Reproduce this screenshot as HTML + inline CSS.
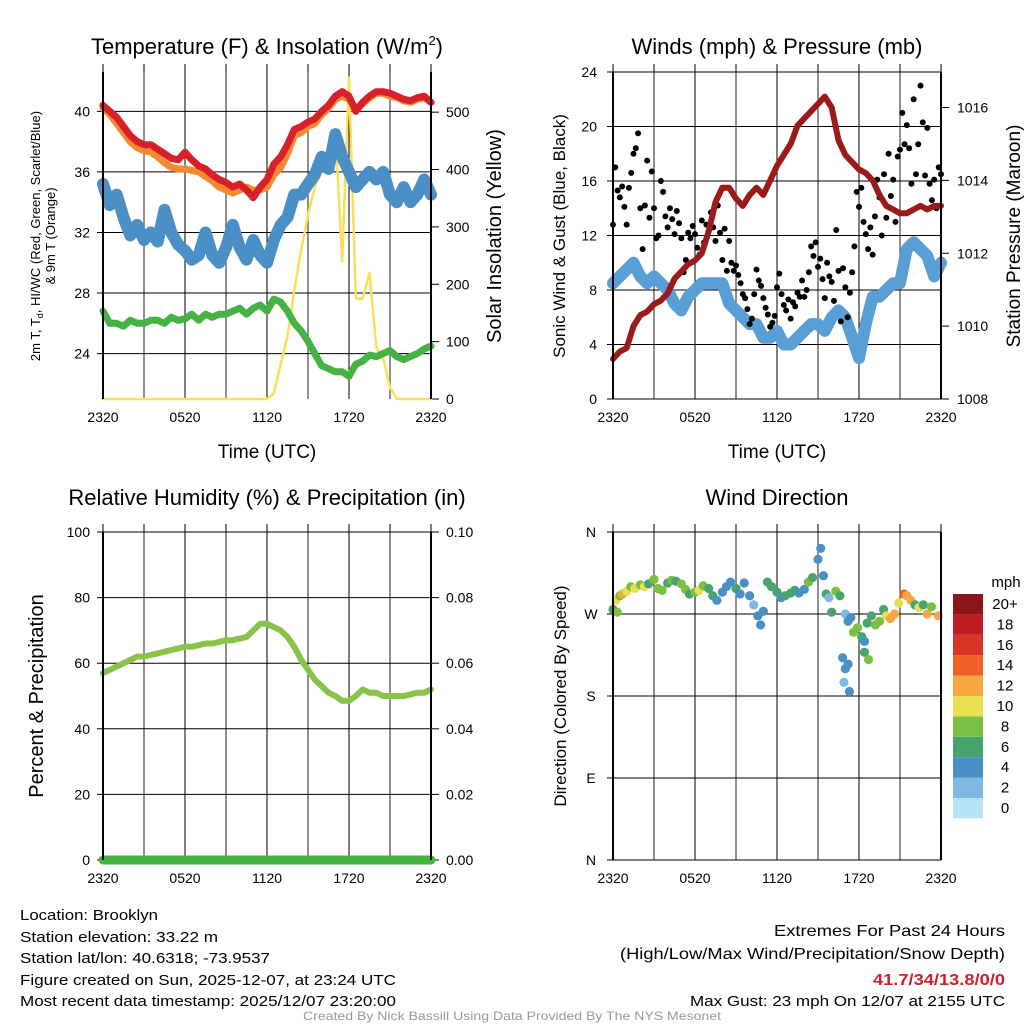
<!DOCTYPE html>
<html><head><meta charset="utf-8"><style>
body{margin:0;background:#fff}
svg{display:block;font-family:"Liberation Sans",sans-serif}
</style></head><body>
<svg id="c" width="1024" height="1024" viewBox="0 0 1024 1024">
<g id="grid"></g><g id="marks"></g><g id="frames"></g><g id="labels"></g>
<g font-family="'Liberation Sans Narrow','Liberation Sans',sans-serif" font-size="15">
<text x="20" y="920" textLength="138" lengthAdjust="spacingAndGlyphs">Location: Brooklyn</text>
<text x="20" y="942" textLength="198" lengthAdjust="spacingAndGlyphs">Station elevation: 33.22 m</text>
<text x="20" y="963" textLength="250" lengthAdjust="spacingAndGlyphs">Station lat/lon: 40.6318; -73.9537</text>
<text x="20" y="985" textLength="376" lengthAdjust="spacingAndGlyphs">Figure created on Sun, 2025-12-07, at 23:24 UTC</text>
<text x="20" y="1006" textLength="376" lengthAdjust="spacingAndGlyphs">Most recent data timestamp: 2025/12/07 23:20:00</text>
<text x="1005" y="936" text-anchor="end" font-size="16" textLength="231" lengthAdjust="spacingAndGlyphs">Extremes For Past 24 Hours</text>
<text x="1005" y="959" text-anchor="end" font-size="16" textLength="385" lengthAdjust="spacingAndGlyphs">(High/Low/Max Wind/Precipitation/Snow Depth)</text>
<text x="1005" y="985" text-anchor="end" font-size="16" font-weight="bold" fill="#d0202a" textLength="132" lengthAdjust="spacingAndGlyphs">41.7/34/13.8/0/0</text>
<text x="1005" y="1006" text-anchor="end" textLength="315" lengthAdjust="spacingAndGlyphs">Max Gust: 23 mph On 12/07 at 2155 UTC</text>
<text x="512" y="1020" text-anchor="middle" font-size="12" fill="#999" textLength="418" lengthAdjust="spacingAndGlyphs">Created By Nick Bassill Using Data Provided By The NYS Mesonet</text>
</g>
</svg>
<script>
// ---- data (half-hourly from 2320 UTC) ----
const timeTicks=["2320","0520","1120","1720","2320"];
const tempTicks=[24,28,32,36,40];
const solarTicks=[0,100,200,300,400,500];
const windTicks=[0,4,8,12,16,20,24];
const presTicks=[1008,1010,1012,1014,1016];
const rhTicks=[0,20,40,60,80,100];
const precipTicks=["0.00","0.02","0.04","0.06","0.08","0.10"];
const dirTicks=["N","E","S","W","N"];
const tempRed=[40.4,40.0,39.6,39.0,38.4,38.0,37.8,37.8,37.5,37.2,36.9,36.8,37.3,36.8,36.4,36.2,35.8,35.5,35.3,35.0,35.2,34.8,34.3,35.0,35.5,36.5,37.0,37.8,38.8,39.0,39.3,39.5,40.0,40.4,41.0,41.3,41.0,40.0,40.6,41.0,41.3,41.3,41.2,41.0,40.8,40.7,40.9,41.0,40.6];
const temp9m=[40.2,39.8,39.2,38.6,38.0,37.6,37.4,37.3,37.0,36.6,36.3,36.2,36.2,36.1,36.0,35.7,35.4,35.0,34.8,34.6,34.8,35.0,34.8,34.8,35.0,35.8,36.3,37.2,38.4,38.6,39.0,39.2,39.8,40.2,40.8,41.0,40.8,40.2,40.5,40.9,41.2,41.2,41.0,40.9,40.7,40.6,40.8,40.9,40.6];
const windChill=[35.2,33.8,34.5,33.0,31.8,32.5,31.5,32.0,31.4,33.5,32.0,31.2,30.8,30.2,30.5,32.0,30.5,30.0,31.0,32.5,31.0,30.2,31.5,30.5,30.0,31.5,32.5,33.0,34.5,34.5,35.2,35.8,37.0,36.2,38.5,37.0,36.0,35.0,35.5,36.0,35.5,36.0,34.5,34.0,35.0,34.0,34.5,35.5,34.5];
const dewPoint=[26.8,26.0,26.0,25.8,26.2,26.0,26.0,26.2,26.2,26.0,26.4,26.2,26.3,26.6,26.2,26.6,26.4,26.6,26.6,26.8,27.0,26.6,27.0,27.2,26.8,27.6,27.4,26.8,26.0,25.5,24.8,24.0,23.2,23.0,22.8,22.8,22.5,23.3,23.5,23.9,23.8,24.0,24.2,23.8,23.6,23.8,24.0,24.3,24.5];
const solar=[0,0,0,0,0,0,0,0,0,0,0,0,0,0,0,0,0,0,0,0,0,0,0,0,0,10,60,110,190,260,320,370,400,430,470,240,560,175,175,220,90,70,20,0,0,0,0,0,0];
const sonicWind=[8.5,9,9.5,10,9,8.5,9,8.5,8,7,6.5,7.5,8,8.5,8.5,8.5,8.5,7,6.5,6,5.5,5.5,4.5,4.5,5,4,4,4.5,5,5.5,5.5,5,6,6.5,6,4.5,3,5.5,7.5,7.5,8,8.5,8.5,11,11.5,11,10.5,9,10];
const pressure=[1009.1,1009.3,1009.4,1010.0,1010.3,1010.4,1010.6,1010.7,1010.9,1011.3,1011.5,1011.7,1011.8,1012.0,1012.6,1013.4,1013.8,1013.8,1013.5,1013.3,1013.6,1013.8,1013.6,1014.0,1014.4,1014.7,1015.0,1015.5,1015.7,1015.9,1016.1,1016.3,1016.0,1015.1,1014.7,1014.5,1014.3,1014.2,1014.0,1013.6,1013.3,1013.2,1013.1,1013.1,1013.2,1013.3,1013.2,1013.3,1013.3];
const gust=[12.8,17,15.3,14.8,15.6,14.1, 12.8,15.5,16.6,18,18.4,19.5, 14,11,14.2,17.5,13.3,16.7, 14,11.8,12,16,15.2,13.4, 12.6,14,13.2,12.1,13.8,12.9, 11.8,9.3,10.2,12.2,11.8,12.7, 12.1,11.1,10.6,13.1,11.5,12.8, 12.3,13.7,12.6,11.6,14.2,12.2, 10.2,12.5,9.4,11.6,10,9.4, 9.8,9.1,8.5,7.7,7.4,6.6, 5.5,5.9,7.7,9.5,8.7,8.3, 7.4,6.7,6.2,5.3,5.6,6.1, 8.2,9.2,7.7,6.9,6.5,7.3, 5.9,7.1,6.8,7.8,7.5,8.7, 7.5,8.0,9.3,11.2,10.5,11.5, 9.7,10.3,8.8,7.4,10.0,9.0, 8.6,7.2,12.4,9.4,5.7,9.6, 8.2,6.0,7.8,9.3,11.2,15.2, 14.1,15.5,13.0,12.1,11.0,12.6, 10.6,13.4,16.1,14.8,12.0,16.5, 13.3,18.0,14.9,16.1,13.0,17.8, 18.3,21.0,18.7,20.1,18.4,15.8, 22.0,16.5,18.7,23.0,20.3,16.4, 19.9,15.8,14.6,16.1,14.0,17.0,16.5];
const dirHour=[0.0,0.2,0.3,0.5,0.7,1.0,1.3,1.6,2.0,2.3,2.6,3.0,3.3,3.6,4.0,4.3,4.6,5.0,5.3,5.6,6.0,6.3,6.6,7.0,7.3,7.6,8.0,8.3,8.6,9.0,9.3,9.6,10.0,10.3,10.6,10.8,11.0,11.3,11.6,12.0,12.3,12.6,13.0,13.3,13.6,14.0,14.3,14.6,15.0,15.2,15.4,15.6,15.8,16.0,16.3,16.6,17.0,17.2,16.8,17.0,17.2,16.9,17.3,17.4,17.6,17.9,18.2,18.4,18.4,18.6,18.7,18.9,19.2,19.5,19.8,20.0,20.3,20.6,20.9,21.3,21.5,21.8,22.1,22.4,22.7,23.0,23.3,23.8];
const dirDeg=[275,285,272,290,292,295,300,298,302,300,303,308,298,296,304,307,306,303,297,292,294,296,301,298,290,285,294,300,305,298,292,304,290,280,268,258,273,305,300,294,288,290,293,296,293,297,305,310,330,342,312,292,288,272,295,290,270,262,222,210,215,195,185,266,250,255,245,240,228,260,220,268,258,262,275,268,265,270,282,292,290,285,280,277,280,270,278,268];
const dirSpd=[6,10,8,8,12,10,8,10,8,10,6,8,8,8,6,8,6,8,8,6,8,10,8,6,6,4,4,4,4,6,4,4,4,2,4,4,4,6,6,6,4,6,6,6,4,4,8,6,4,4,4,6,2,6,8,6,2,4,4,4,4,1,4,4,8,8,6,4,6,6,8,6,8,8,6,10,12,12,10,14,12,12,6,10,6,12,8,12];
const rh=[57,58,59,60,61,62,62,62.5,63,63.5,64,64.5,65,65,65.5,66,66,66.5,67,67,67.5,68,70,72,72,71,70,68,65,61,58,55,53,51,50,48.5,48.5,50,52,51,51,50,50,50,50,50.5,51,51,52];
const precip=[0,0,0,0,0,0,0,0,0,0,0,0,0,0,0,0,0,0,0,0,0,0,0,0,0,0,0,0,0,0,0,0,0,0,0,0,0,0,0,0,0,0,0,0,0,0,0,0,0];
const speedBins=["0","2","4","6","8","10","12","14","16","18","20+"];
const binColors=["#b5e2f7","#7db9e2","#4a8fc6","#48a36c","#7bc043","#e8e052","#f6a842","#ef6128","#dc3327","#bc1d23","#8d1519"];

const NS="http://www.w3.org/2000/svg";
function mk(tag,attrs,parent,text){const e=document.createElementNS(NS,tag);for(const k in attrs)e.setAttribute(k,attrs[k]);if(text!==undefined)e.textContent=text;document.getElementById(parent).appendChild(e);return e;}
function lin(d0,d1,r0,r1){return v=>r0+(v-d0)/(d1-d0)*(r1-r0);}

const P=[{x0:103,x1:431,y0:72,y1:399},{x0:613,x1:941,y0:72,y1:399},{x0:103,x1:431,y0:532,y1:860},{x0:613,x1:941,y0:532,y1:860}];
const xs=P.map(p=>lin(0,24,p.x0,p.x1));
const idxH=(i,n)=>i/(n-1)*24;

function frame(p,k,leftVals,leftY,rightVals,rightY,leftX,rightX){
  for(let h=0;h<=24;h+=3){const x=xs[k](h);
    const g=mk('line',{x1:x,x2:x,y1:p.y0,y2:p.y1,stroke:h%6?'#555':'#000','stroke-width':h%6?1.3:1},'grid');
    
    
    const t=mk('line',{x1:x,x2:x,y1:p.y0-8,y2:p.y0,stroke:'#000'},'grid');
    
    
  }
  leftVals.forEach((v,i)=>{const y=leftY(i);
    const g=mk('line',{x1:p.x0-6,x2:p.x1,y1:y,y2:y,stroke:'#000','stroke-width':1},'grid');
    
    
    const t=mk('text',{x:leftX.x,y:y+5,'text-anchor':leftX.a,'font-size':14},'labels',v);
    
    
  });
  if(rightVals)rightVals.forEach((v,i)=>{const y=rightY(i);
    const g=mk('line',{x1:p.x1,x2:p.x1+8,y1:y,y2:y,stroke:'#000'},'grid');
    
    
    const t=mk('text',{x:rightX,y:y+5,'font-size':14},'labels',v);
    
    
  });
  timeTicks.forEach((v,i)=>{const t=mk('text',{x:xs[k](i*6),y:p.y1+23,'text-anchor':'middle','font-size':14},'labels',v);
    
    });
  const r=mk('line',{x1:p.x0,x2:p.x0,y1:p.y0,y2:p.y1,stroke:'#000','stroke-width':2},'frames');
  
  
  const r2=mk('line',{x1:p.x1,x2:p.x1,y1:p.y0,y2:p.y1,stroke:'#000','stroke-width':2},'frames');
  
  
}
function line(arr,k,ys,color,w,name){
  const d=arr.map((v,i)=>(i?'L':'M')+xs[k](idxH(i,arr.length)).toFixed(1)+','+ys(v).toFixed(1)).join('');
  const e=mk('path',{d:d,fill:'none',stroke:color,'stroke-width':w,'stroke-linejoin':'round','stroke-linecap':'round'},'marks');
  
  
}
function txt(x,y,s,size,rot,name){const a={x:x,y:y,'text-anchor':'middle','font-size':size};if(rot)a.transform=`rotate(-90 ${x} ${y})`;
  const t=mk('text',a,'labels',s);return t;}

// Panel 1
const yT=lin(21,42.6,399,72), yS=lin(0,570,399,72);
frame(P[0],0,tempTicks,i=>yT(tempTicks[i]),solarTicks,i=>yS(solarTicks[i]),{x:90,a:'end'},446);
line(solar,0,yS,'#f8e05a',2.5,'solar-line');
line(dewPoint,0,yT,'#45b243',7,'dewpoint-line');
line(windChill,0,yT,'#4a8fc6',12,'windchill-line');
line(temp9m,0,yT,'#f58a30',7,'temp9m-line');
line(tempRed,0,yT,'#d8202a',7,'temp2m-line');
// Panel 2
const yW=lin(0,24,399,72), yP=lin(1008,1016,399,107.5);
frame(P[1],1,windTicks,i=>yW(windTicks[i]),presTicks,i=>yP(presTicks[i]),{x:597,a:'end'},957);
line(sonicWind,1,yW,'#5a9ed6',12,'sonic-wind-line');
gust.forEach((v,i)=>{const c=mk('circle',{cx:xs[1](idxH(i,gust.length)),cy:yW(v),r:3,fill:'#000'},'marks');
  
  });
line(pressure,1,yP,'#9b1b1b',6,'pressure-line');
// Panel 3
const yR=lin(0,100,860,532), yPr=lin(0,0.1,860,532);
frame(P[2],2,rhTicks,i=>yR(rhTicks[i]),precipTicks,i=>yPr(+precipTicks[i]),{x:90,a:'end'},446);
line(rh,2,yR,'#8bc34a',6,'rh-line');
line(precip,2,yPr,'#45b243',9,'precip-line');
// Panel 4
const yD=lin(0,360,860,532);
frame(P[3],3,dirTicks,i=>yD(i*90),null,null,{x:591,a:'middle'},0);
dirHour.forEach((h,i)=>{const b=Math.min(10,Math.round(dirSpd[i]/2));
  const c=mk('circle',{cx:xs[3](h),cy:yD(dirDeg[i]),r:4.6,fill:binColors[b]},'marks');
  
  });
speedBins.forEach((s,i)=>{const y=798-i*20.4;
  const r=mk('rect',{x:953,y:y,width:30,height:20.4,fill:binColors[i]},'marks');
  
  
  const t=mk('text',{x:1005,y:y+15,'text-anchor':'middle','font-size':15},'labels',s);
  
  });
txt(1006,587,'mph',15,false,'colorbar-title');

// titles
const t1=txt(267,54,'Temperature (F) & Insolation (W/m',22,false,'temp-title');
const sup=document.createElementNS(NS,'tspan');sup.setAttribute('dy','-9');sup.setAttribute('font-size','13');sup.textContent='2';t1.appendChild(sup);
const cl=document.createElementNS(NS,'tspan');cl.setAttribute('dy','9');cl.textContent=')';t1.appendChild(cl);
txt(777,54,'Winds (mph) & Pressure (mb)',22,false,'wind-title');
txt(267,505,'Relative Humidity (%) & Precipitation (in)',22,false,'rh-title');
txt(777,505,'Wind Direction',22,false,'direction-title');
txt(267,458,'Time (UTC)',19,false,'x-title-1');
txt(777,458,'Time (UTC)',19,false,'x-title-2');
const yl=txt(40,236,'2m T, T',13,true,'temp-y-title');
const sb=document.createElementNS(NS,'tspan');sb.setAttribute('font-size','9');sb.setAttribute('dy','3');sb.textContent='d';yl.appendChild(sb);
const rs=document.createElementNS(NS,'tspan');rs.setAttribute('dy','-3');rs.textContent=', HI/WC (Red, Green, Scarlet/Blue)';yl.appendChild(rs);
txt(55,236,'& 9m T (Orange)',13,true,'temp-y-title-2');
txt(501,236,'Solar Insolation (Yellow)',20,true,'solar-y-title');
txt(565,236,'Sonic Wind & Gust (Blue, Black)',17,true,'wind-y-title');
txt(1020,236,'Station Pressure (Maroon)',19,true,'pressure-y-title');
txt(43,696,'Percent & Precipitation',20,true,'rh-y-title');
txt(566,696,'Direction (Colored By Speed)',17,true,'direction-y-title');
</script>
</body></html>
